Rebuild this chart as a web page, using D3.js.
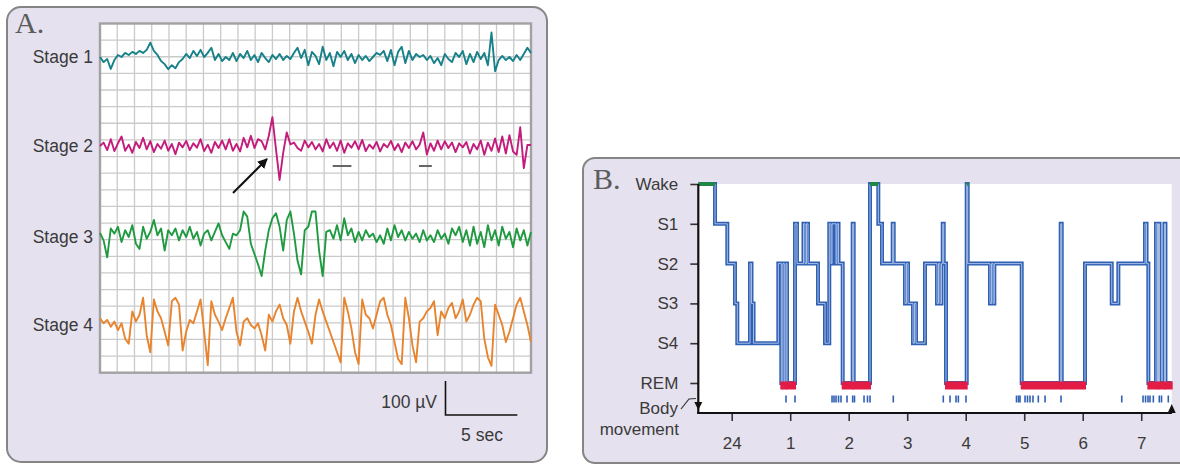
<!DOCTYPE html>
<html><head><meta charset="utf-8">
<script src="https://cdn.jsdelivr.net/npm/d3@7"></script>
<style>
body{margin:0;background:#fff;}
text{font-family:"Liberation Sans",Arial,Helvetica,sans-serif;}
</style>
</head><body>
<svg id="c" width="1180" height="465"></svg>
<script>
// ---------------- DATA ----------------
// Panel A: 30-second EEG epochs, one sample every 0.25 s, values in microvolts
const sampleStep = 0.25;
const stageNames = ["Stage 1","Stage 2","Stage 3","Stage 4"];
const stage1 = [0,-15,-6,-35,-9,6,0,12,6,15,
  9,18,12,21,42,18,6,-12,-21,-36,
  -24,-33,-15,-6,9,-3,18,3,21,0,
  12,27,-9,9,-12,0,-9,12,-12,9,
  -3,18,-9,6,-15,12,-3,-15,6,-6,
  9,-9,3,-6,12,27,-3,21,-24,15,
  3,-21,30,-9,12,-27,15,0,18,-9,
  9,-18,6,-9,3,-12,0,12,6,18,
  -12,21,-24,15,30,-18,18,-9,9,0,
  6,-9,3,-18,-3,-24,9,-6,-15,12,
  0,18,-21,9,-15,15,-6,12,-24,72,
  -42,-9,3,-9,0,-12,6,-9,9,27,12];
const stage2 = [0,10,-12,20,-15,8,28,-14,4,-20,
  12,-6,24,-10,14,-18,6,-8,16,-14,
  6,-24,10,-4,15,-12,8,-5,20,-15,
  4,-20,12,-6,16,-10,20,-14,6,-16,
  24,-4,30,-6,20,14,-10,30,85,-10,
  -100,-20,40,5,10,-6,-14,16,-4,12,
  -10,6,-16,20,-6,10,-14,16,-20,8,
  -5,14,-10,18,-15,4,-8,12,-16,6,
  -4,15,-12,6,-18,10,-6,14,-10,4,
  40,-25,8,-14,16,-10,14,-6,10,-18,
  8,-4,12,-22,6,-10,16,-26,10,-14,
  22,-18,28,-22,32,-16,-26,55,-65,3,3];
const stage3 = [12,-10,-60,25,10,30,-15,20,0,35,
  -20,-35,30,-5,15,50,5,25,-40,20,
  5,25,-10,20,0,30,-5,15,-25,10,
  20,-10,15,40,5,-15,-35,10,5,20,
  75,60,-20,-50,-80,-115,-40,20,55,70,
  30,-40,50,75,10,-70,-110,20,30,75,
  75,-40,-115,15,20,-5,35,-10,55,5,
  25,-15,15,-10,20,0,10,-15,5,-20,
  25,-10,35,0,20,-10,15,-5,10,-15,
  20,-10,5,-15,20,-5,10,-20,25,5,
  30,-15,20,-25,30,-20,15,-30,35,-10,
  20,-25,30,-5,15,-30,25,-10,20,-25,15];
const stage4 = [20,5,15,-5,10,-15,5,-40,-55,40,
  10,30,80,-30,-80,75,40,20,-20,-60,
  70,80,60,-75,-20,15,5,40,75,-20,
  -118,70,30,10,-15,20,50,80,-20,-60,
  10,20,0,-10,5,-30,-75,30,10,40,
  60,20,0,-55,40,80,40,10,-20,-55,
  30,75,40,10,-20,-50,-80,-110,80,40,
  -10,-80,-115,75,30,20,-10,30,70,80,
  30,0,-50,-100,-115,80,20,-60,-110,10,
  20,40,50,70,-30,40,20,50,65,20,
  40,75,10,30,60,80,70,-40,-95,-120,
  60,30,0,-50,-20,20,60,80,40,0,-50];
const traceColors = ["#17818a","#c41c7c","#1f9a40","#e8842e"];

// Panel B: hypnogram (hours after midnight) and stages
const hypnoLevels = ["Wake","S1","S2","S3","S4","REM"];
const hourTicks = [0,1,2,3,4,5,6,7];
const hourLabels = ["24","1","2","3","4","5","6","7"];
const hypnoTimes = [-0.571,-0.285,-0.075,0.056,0.096,0.313,0.338,0.373,0.797,0.848,
  0.874,0.899,0.928,0.945,1.082,1.116,1.227,1.253,1.279,1.304,
  1.475,1.595,1.668,1.697,1.715,1.783,1.800,1.826,1.897,2.068,
  2.085,2.364,2.506,2.569,2.752,2.769,2.962,2.988,3.014,3.099,
  3.125,3.150,3.304,3.509,3.535,3.561,3.586,3.607,3.624,3.663,
  4.017,4.034,4.415,4.441,4.467,4.489,4.957,5.624,5.641,6.039,
  6.496,6.609,7.065,7.091,7.122,7.253,7.279,7.296,7.313,7.397,7.414];
const hypnoStages = ["Wake","S1","S2","S3","S4","S2","S3","S4","S2","REM",
  "S2","REM","S2","REM","S1","S2","S1","S2","S1","S2",
  "S3","S4","S1","S2","S1","S2","S1","S2","REM","S1",
  "REM","Wake","S1","S2","S1","S2","S3","S2","S3","S4",
  "S3","S4","S2","S3","S2","S3","S2","S1","S2","REM",
  "Wake","S2","S3","S2","S3","S2","REM","S1","REM","S2",
  "S3","S2","S1","S2","REM","S1","REM","S1","REM","S1","REM"];
const hypnoEnd = 7.521;
const bodyMovements = [0.928,1.082,1.715,1.749,1.783,1.826,1.868,1.971,2.068,2.099,
  2.262,2.321,2.364,2.762,3.617,3.732,3.834,3.874,4.005,4.868,
  4.903,4.928,5.014,5.056,5.099,5.150,5.241,5.356,5.629,6.667,
  7.031,7.074,7.116,7.150,7.207,7.309,7.347,7.463];

// ---------------- DRAW ----------------
const svg = d3.select("#c");
const txt = "#3a3a3a";

// ===== Panel A =====
svg.append("rect").attr("x",7).attr("y",7).attr("width",540).attr("height",455)
  .attr("rx",14).attr("fill","#e5e1ef").attr("stroke","#858585").attr("stroke-width",2);
svg.append("text").attr("x",15).attr("y",33).text("A.")
  .style("font-family","'Liberation Serif','Times New Roman',serif").attr("font-size",30).attr("fill","#5c5c5c");

const xA = d3.scaleLinear().domain([0,30]).range([100,531]);
const rowA = d3.scaleLinear().domain([0,21]).range([23.5,372.7]);
const yA = d3.scaleLinear().domain([-100,100]).range([34,-34]);

const gA = svg.append("g");
gA.append("rect").attr("x",xA(0)).attr("y",rowA(0)).attr("width",xA(30)-xA(0)).attr("height",rowA(21)-rowA(0)).attr("fill","#fff");
gA.selectAll("line.v").data(d3.range(1,25)).join("line").attr("class","v")
  .attr("x1",d=>xA(d*1.2)).attr("x2",d=>xA(d*1.2)).attr("y1",rowA(0)).attr("y2",rowA(21))
  .attr("stroke","#cacaca").attr("stroke-width",1.3);
gA.selectAll("line.h").data(d3.range(1,21)).join("line").attr("class","h")
  .attr("y1",d=>rowA(d)).attr("y2",d=>rowA(d)).attr("x1",xA(0)).attr("x2",xA(30))
  .attr("stroke","#cacaca").attr("stroke-width",1.3);
gA.append("rect").attr("x",xA(0)).attr("y",rowA(0)).attr("width",xA(30)-xA(0)).attr("height",rowA(21)-rowA(0))
  .attr("fill","none").attr("stroke","#a2a2a2").attr("stroke-width",2.4);

const baselines = [57,146,237,325];
const traces = [stage1,stage2,stage3,stage4];
traces.forEach((tr,k)=>{
  const line = d3.line().x((d,i)=>xA(i*sampleStep)).y(d=>baselines[k]+yA(d));
  gA.append("path").attr("d",line(tr)).attr("fill","none").attr("stroke",traceColors[k])
    .attr("stroke-width",1.9).attr("stroke-linejoin","round");
  svg.append("text").attr("x",93).attr("y",baselines[k]).attr("dy","0.35em").attr("text-anchor","end")
    .attr("font-size",17.5).attr("fill",txt).text(stageNames[k]);
});

// spindle markers
[[16.2,17.5],[22.2,23.1]].forEach(s=>{
  gA.append("line").attr("x1",xA(s[0])).attr("x2",xA(s[1])).attr("y1",166).attr("y2",166)
    .attr("stroke","#666").attr("stroke-width",2);
});
// K-complex arrow
svg.append("defs").append("marker").attr("id","ah").attr("viewBox","0 0 10 10").attr("refX",9).attr("refY",5)
  .attr("markerWidth",5).attr("markerHeight",5).attr("orient","auto")
  .append("path").attr("d","M0,0L10,5L0,10Z").attr("fill","#111");
svg.append("line").attr("x1",233).attr("y1",193).attr("x2",267).attr("y2",159)
  .attr("stroke","#111").attr("stroke-width",2).attr("marker-end","url(#ah)");

// scale bar
const sbX = 445.5, sbY = 415;
svg.append("path").attr("d",`M${sbX},${sbY+yA(100)}V${sbY}H${sbX+xA(5)-xA(0)}`)
  .attr("fill","none").attr("stroke","#111").attr("stroke-width",1.6);
svg.append("text").attr("x",437).attr("y",402).attr("dy","0.35em").attr("text-anchor","end")
  .attr("font-size",17.5).attr("fill",txt).text("100 \u00b5V");
svg.append("text").attr("x",482).attr("y",435).attr("dy","0.35em").attr("text-anchor","middle")
  .attr("font-size",17.5).attr("fill",txt).text("5 sec");

// ===== Panel B =====
svg.append("rect").attr("x",583).attr("y",158).attr("width",640).attr("height",305)
  .attr("rx",12).attr("fill","#e5e1ef").attr("stroke","#858585").attr("stroke-width",2);
svg.append("text").attr("x",593).attr("y",189).text("B.")
  .style("font-family","'Liberation Serif','Times New Roman',serif").attr("font-size",30).attr("fill","#5c5c5c");

const xB = d3.scaleLinear().domain([hypnoTimes[0],hypnoEnd]).range([698.3,1171.7]);
const yB = d3.scalePoint().domain(hypnoLevels).range([184,383]);
const yBody = 399;

svg.append("rect").attr("x",xB.range()[0]).attr("y",yB("Wake")).attr("width",xB.range()[1]-xB.range()[0])
  .attr("height",413-yB("Wake")).attr("fill","#fff");

const pts = hypnoTimes.map((t,i)=>[t,hypnoStages[i]]);
pts.push([hypnoEnd,hypnoStages[hypnoStages.length-1]]);
const hline = d3.line().x(d=>xB(d[0])).y(d=>yB(d[1])).curve(d3.curveStepAfter);
const gB = svg.append("g");
gB.append("path").attr("d",hline(pts)).attr("fill","none").attr("stroke","#2f60b4").attr("stroke-width",4);
gB.append("path").attr("d",hline(pts)).attr("fill","none").attr("stroke","#b4c8ec").attr("stroke-width",0.9);

const segs = hypnoTimes.map((t,i)=>({t0:t,t1:i+1<hypnoTimes.length?hypnoTimes[i+1]:hypnoEnd,s:hypnoStages[i]}));
gB.selectAll("line.w").data(segs.filter(d=>d.s==="Wake")).join("line").attr("class","w")
  .attr("x1",d=>xB(d.t0)).attr("x2",d=>Math.max(xB(d.t1),xB(d.t0)+2)).attr("y1",yB("Wake")).attr("y2",yB("Wake"))
  .attr("stroke","#1e8a3c").attr("stroke-width",3.5);
gB.selectAll("rect.r").data(segs.filter(d=>d.s==="REM")).join("rect").attr("class","r")
  .attr("x",d=>xB(d.t0)-1).attr("width",d=>xB(d.t1)-xB(d.t0)+2).attr("y",yB("REM")-1.5).attr("height",8)
  .attr("fill","#e31c45");
gB.selectAll("line.b").data(bodyMovements).join("line").attr("class","b")
  .attr("x1",d=>xB(d)).attr("x2",d=>xB(d)).attr("y1",yBody-3.5).attr("y2",yBody+3.5)
  .attr("stroke","#2f60b4").attr("stroke-width",1.6);

// axes
const gy = svg.append("g").attr("transform","translate(698.3,0)")
  .call(d3.axisLeft(yB).tickSize(8).tickPadding(12));
gy.select(".domain").remove();
gy.selectAll(".tick line").attr("stroke","#333").attr("stroke-width",1.6);
gy.selectAll(".tick text").attr("font-size",17).attr("fill",txt).attr("font-family","'Liberation Sans',Arial,sans-serif");

const gx = svg.append("g").attr("transform","translate(0,413)")
  .call(d3.axisBottom(xB).tickValues(hourTicks).tickFormat((d,i)=>hourLabels[i]).tickSize(8).tickPadding(16));
gx.select(".domain").remove();
gx.selectAll(".tick line").attr("stroke","#333").attr("stroke-width",1.6);
gx.selectAll(".tick text").attr("font-size",17).attr("fill",txt).attr("font-family","'Liberation Sans',Arial,sans-serif");

svg.append("line").attr("x1",698.3).attr("x2",698.3).attr("y1",yB("Wake")).attr("y2",414)
  .attr("stroke","#111").attr("stroke-width",2.2);
svg.append("line").attr("x1",697.2).attr("x2",1172).attr("y1",413).attr("y2",413)
  .attr("stroke","#111").attr("stroke-width",2.2);
svg.append("path").attr("d","M694.3,402L702.3,402L698.3,410Z").attr("fill","#111");
svg.append("path").attr("d","M1167.7,413L1175.7,413L1171.7,404Z").attr("fill","#111");

svg.append("path").attr("d","M681,409L689,399L696,398.5").attr("fill","none").attr("stroke","#333").attr("stroke-width",1.2);
svg.append("text").attr("x",678).attr("y",408).attr("dy","0.35em").attr("text-anchor","end")
  .attr("font-size",17).attr("fill",txt).text("Body");
svg.append("text").attr("x",679).attr("y",429).attr("dy","0.35em").attr("text-anchor","end")
  .attr("font-size",17).attr("fill",txt).text("movement");
</script>
</body></html>
